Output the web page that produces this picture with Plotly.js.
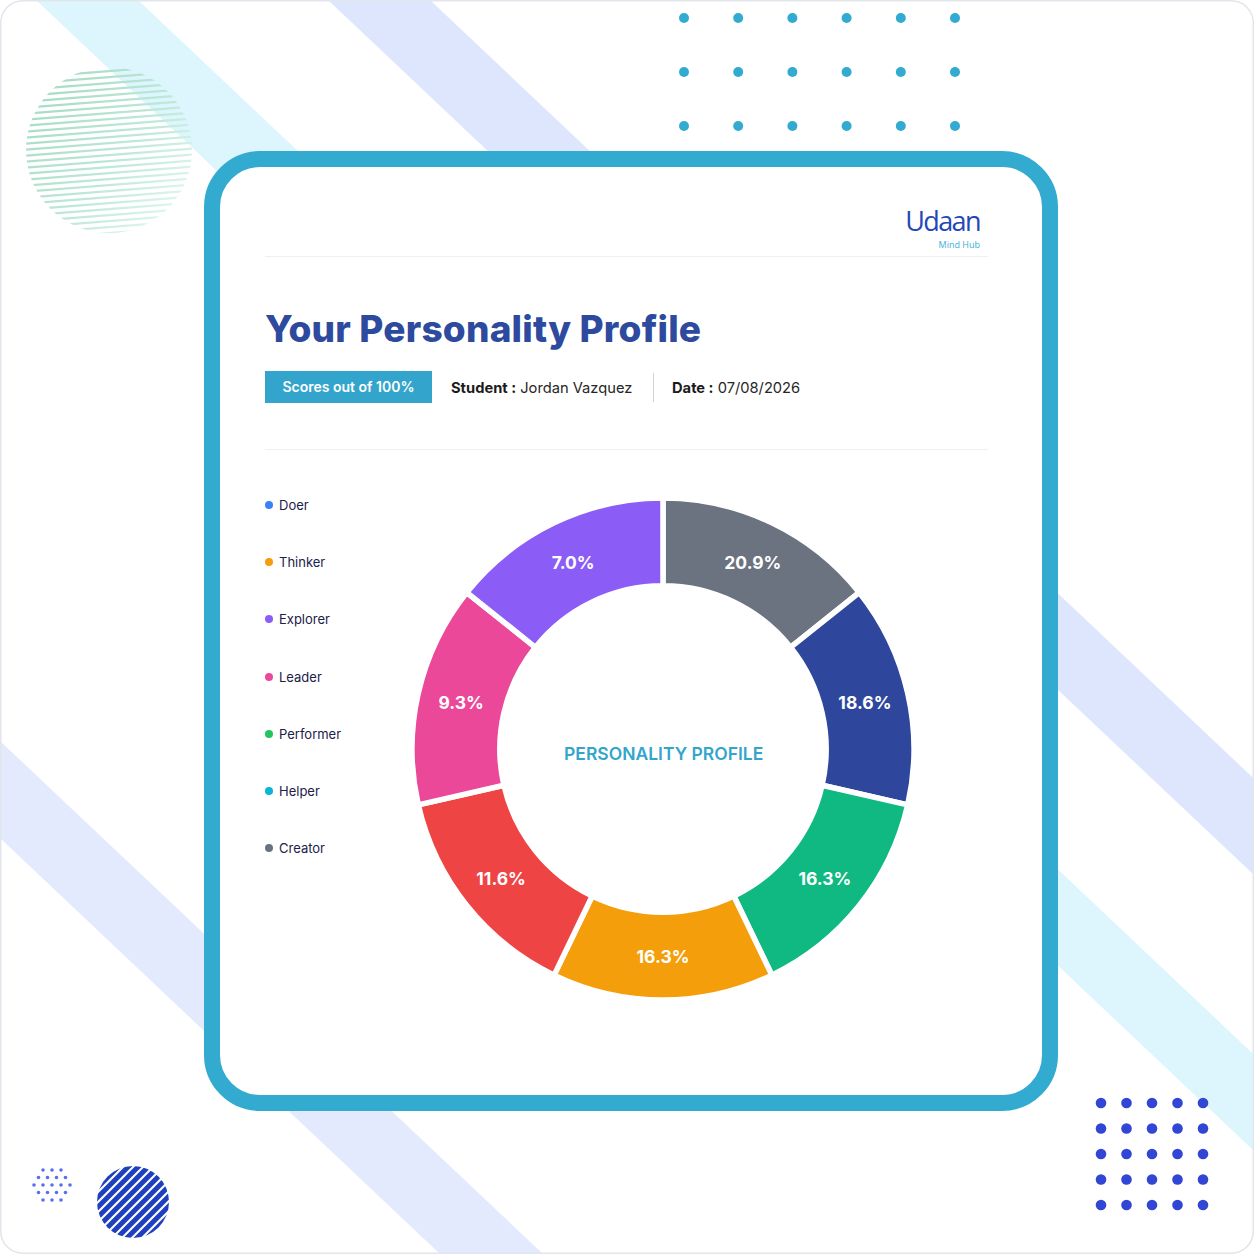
<!DOCTYPE html>
<html>
<head>
<meta charset="utf-8">
<script src="https://cdn.plot.ly/plotly-3.0.1.min.js"></script>
<style>
  html, body { margin: 0; padding: 0; background: #ffffff; }
  body { width: 1254px; height: 1254px; position: relative; overflow: hidden; font-family: "Inter", "Noto Sans", sans-serif; }
  #bg { position: absolute; left: 0; top: 0; }
  #card { position: absolute; left: 204px; top: 151px; width: 854px; height: 960px; box-sizing: border-box;
          border: 16px solid #33aad0; border-radius: 56px; background: #ffffff; }
  .abs { position: absolute; white-space: nowrap; }
  #logo { left: 880px; top: 204px; width: 100px; text-align: right; font-family: "Open Sans", sans-serif; font-size: 27px; font-weight: 500; color: #2347b9; letter-spacing: -1.6px; line-height: 34px; }
  #logosub { left: 900px; top: 239px; width: 80px; text-align: right; font-family: "Open Sans", sans-serif; font-size: 9px; color: #37b1d8; line-height: 12px; }
  .divider { position: absolute; left: 265px; width: 723px; height: 1px; background: #eef0f4; }
  #title { left: 265px; top: 305px; font-size: 37px; font-weight: 800; color: #2e4a9e; letter-spacing: 0.2px; line-height: 48px; }
  #badge { left: 265px; top: 371px; width: 167px; height: 32px; background: #33a5cc; color: #fff; font-size: 14px; font-weight: 600; text-align: center; line-height: 32px; }
  .meta { top: 378px; font-size: 14.7px; color: #1b1b1b; line-height: 20px; }
  .meta b { font-weight: 700; }
  .meta span { font-weight: 400; color: #262626; }
  #sep { left: 653px; top: 373px; width: 1px; height: 29px; background: #cfd3d9; }
  #legend { position: absolute; left: 264px; top: 496px; }
  .li { position: absolute; left: 0; height: 18px; line-height: 18px; font-size: 13px; color: #1c2149; white-space: nowrap; }
  .li span.dot { position: absolute; left: 1px; top: 5px; width: 8px; height: 8px; border-radius: 50%; }
  .li span.tx { position: absolute; left: 15px; top: 0; }
  #pie { position: absolute; left: 383px; top: 469px; width: 560px; height: 560px; }
</style>
</head>
<body>
<svg id="bg" width="1254" height="1254" xmlns="http://www.w3.org/2000/svg">
  <defs>
    <clipPath id="frameClip"><rect x="1" y="1" width="1252" height="1252" rx="22" ry="22"/></clipPath>
    <clipPath id="hatchClip1"><circle cx="109" cy="150" r="83"/></clipPath>
    <clipPath id="hatchClip2"><circle cx="133" cy="1202" r="36"/></clipPath>
    <linearGradient id="hatchGrad" gradientUnits="userSpaceOnUse" x1="40" y1="90" x2="200" y2="230">
      <stop offset="0" stop-color="#a6dbc4"/>
      <stop offset="0.5" stop-color="#bfe8d9"/>
      <stop offset="1" stop-color="#eefbfb"/>
    </linearGradient>
  </defs>
  <g clip-path="url(#frameClip)">
    <rect x="0" y="0" width="1254" height="1254" fill="#ffffff"/>
    <polygon points="36,0 138,0 1465,1254 1363,1254" fill="#ddf6fd"/>
    <polygon points="328,0 430,0 1757,1254 1655,1254" fill="#dde6fd"/>
    <polygon points="0,741 0,838 440,1254 543,1254" fill="#e4eafd"/>
    <g id="hatch1" clip-path="url(#hatchClip1)"></g>
    <g id="dots1"></g>
    <g id="hatch2" clip-path="url(#hatchClip2)"></g>
    <g id="dotsTop"></g>
    <g id="dotsBR"></g>
  </g>
  <rect x="0.75" y="0.75" width="1252.5" height="1252.5" rx="22" ry="22" fill="none" stroke="#e1e5ec" stroke-width="1.5"/>
</svg>

<div id="card"></div>
<div class="abs" id="logo">Udaan</div>
<div class="abs" id="logosub">Mind Hub</div>
<div class="divider" style="top:256px"></div>
<div class="abs" id="title">Your Personality Profile</div>
<div class="abs" id="badge">Scores out of 100%</div>
<div class="abs meta" style="left:451px"><b>Student :</b> <span>Jordan Vazquez</span></div>
<div class="abs" id="sep"></div>
<div class="abs meta" style="left:672px"><b>Date :</b> <span>07/08/2026</span></div>
<div class="divider" style="top:449px"></div>
<div id="legend"></div>
<div id="pie"></div>

<script>
// ---- Data ----
const legendLabels = ["Doer", "Thinker", "Explorer", "Leader", "Performer", "Helper", "Creator"];
const legendColors = ["#3b82f6", "#f59e0b", "#8b5cf6", "#ec4899", "#22c55e", "#06b6d4", "#6b7280"];

// slices, clockwise from 12 o'clock
const sliceLabels = ["Creator", "Doer", "Performer", "Thinker", "Helper", "Leader", "Explorer"];
const sliceShares = [1, 1, 1, 1, 1, 1, 1];           // slices are drawn with equal angles
const sliceScores = ["20.9%", "18.6%", "16.3%", "16.3%", "11.6%", "9.3%", "7.0%"];
const sliceColors = ["#6b7280", "#2e479d", "#10b981", "#f59e0b", "#ef4444", "#ec4899", "#8b5cf6"];
const centerLabel = "PERSONALITY PROFILE";

// ---- Legend (HTML) ----
const legend = document.getElementById("legend");
legendLabels.forEach((lab, i) => {
  const d = document.createElement("div");
  d.className = "li";
  d.style.top = (i * 57.2) + "px";
  d.innerHTML = '<span class="dot" style="background:' + legendColors[i] + '"></span><span class="tx">' + lab + '</span>';
  legend.appendChild(d);
});

// ---- Decorations ----
const NS = "http://www.w3.org/2000/svg";
function el(tag, attrs, parent) {
  const e = document.createElementNS(NS, tag);
  for (const k in attrs) e.setAttribute(k, attrs[k]);
  parent.appendChild(e);
  return e;
}
// top-left striped circle
const h1 = document.getElementById("hatch1");
for (let y = 60; y <= 256; y += 6) {
  el("line", {x1: 20, y1: y + 6, x2: 200, y2: y - 8, stroke: "url(#hatchGrad)", "stroke-width": 2.2}, h1);
}
// bottom-left dotted circle
const d1 = document.getElementById("dots1");
for (let r = -3; r <= 3; r++) {
  for (let c = -3; c <= 3; c++) {
    const x = 52 + c * 9 + (r % 2 ? 4.5 : 0), y = 1185 + r * 7.5;
    if ((x - 52) ** 2 + (y - 1185) ** 2 <= 19 * 19) el("circle", {cx: x, cy: y, r: 1.8, fill: "#5a6ef2"}, d1);
  }
}
// bottom-left diagonal-striped circle
const h2 = document.getElementById("hatch2");
for (let k = -8; k <= 8; k++) {
  const off = k * 10;
  el("line", {x1: 133 - 60 + off, y1: 1202 + 60, x2: 133 + 60 + off, y2: 1202 - 60, stroke: "#1e3fbf", "stroke-width": 5}, h2);
}
// dot grids
const dt = document.getElementById("dotsTop");
for (let r = 0; r < 3; r++) for (let c = 0; c < 6; c++)
  el("circle", {cx: 684 + c * 54.2, cy: 18 + r * 54, r: 5, fill: "#33aad0"}, dt);
const db = document.getElementById("dotsBR");
for (let r = 0; r < 5; r++) for (let c = 0; c < 5; c++)
  el("circle", {cx: 1101 + c * 25.5, cy: 1103 + r * 25.5, r: 5.3, fill: "#3246d6"}, db);

// ---- Donut (Plotly) ----
const trace = {
  type: "pie",
  labels: sliceLabels,
  values: sliceShares,
  text: sliceScores,
  textinfo: "text",
  textposition: "inside",
  insidetextorientation: "horizontal",
  sort: false,
  direction: "clockwise",
  rotation: 0,
  hole: 0.65,
  marker: { colors: sliceColors, line: { color: "#ffffff", width: 5.5 } },
  textfont: { family: "Inter, sans-serif", size: 17.5, color: "#ffffff", weight: 700 },
  hoverinfo: "skip",
  showlegend: false
};
const layout = {
  width: 560, height: 560,
  margin: { l: 29, r: 29, t: 29, b: 29 },
  paper_bgcolor: "rgba(0,0,0,0)",
  plot_bgcolor: "rgba(0,0,0,0)",
  showlegend: false,
  annotations: [{
    text: centerLabel, x: 0.5, y: 0.492, xref: "paper", yref: "paper", showarrow: false,
    font: { family: "Inter, sans-serif", size: 17.5, color: "#33a5cc", weight: 600 }
  }]
};
Plotly.newPlot("pie", [trace], layout, { displayModeBar: false, staticPlot: true });
</script>
</body>
</html>
